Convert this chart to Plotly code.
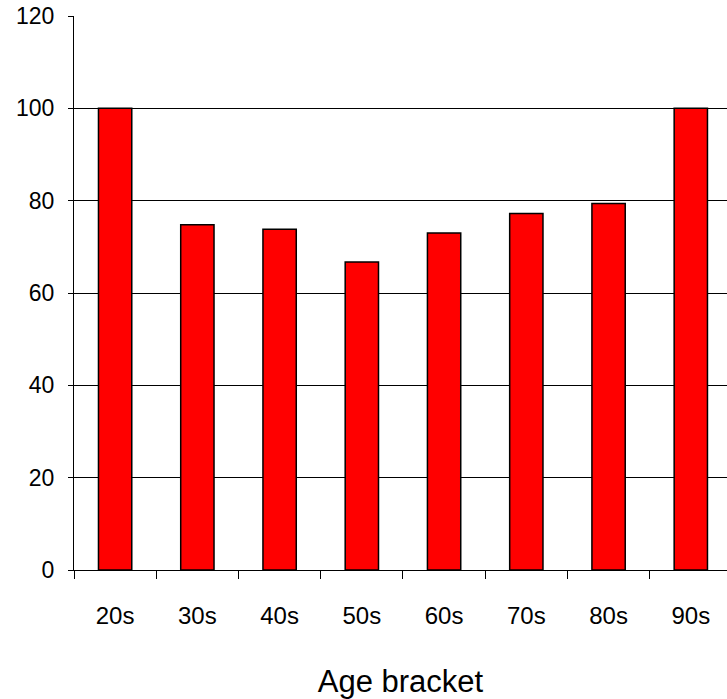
import plotly.graph_objects as go

categories = ["20s", "30s", "40s", "50s", "60s", "70s", "80s", "90s"]
values = [100, 74.8, 73.8, 66.7, 73.0, 77.2, 79.4, 100]

fig = go.Figure(
    go.Bar(
        x=categories,
        y=values,
        width=0.405,
        marker=dict(color="#FF0000", line=dict(color="black", width=1.5)),
    )
)

font_family = "Liberation Sans, Arial, sans-serif"

fig.update_layout(
    width=727,
    height=699,
    margin=dict(l=74, r=0, t=16, b=129),
    plot_bgcolor="white",
    paper_bgcolor="white",
    showlegend=False,
    font=dict(family=font_family, color="black"),
)

fig.update_xaxes(
    type="category",
    range=[-0.5, 7.44],
    tickson="boundaries",
    ticks="outside",
    ticklen=8,
    tickcolor="black",
    showline=True,
    linecolor="black",
    linewidth=1,
    showgrid=False,
    tickfont=dict(size=24, family=font_family),
    ticklabelstandoff=24,
    title=dict(text="Age bracket", font=dict(size=31, family=font_family), standoff=42),
)

fig.update_yaxes(
    range=[0, 120],
    dtick=20,
    ticks="outside",
    ticklen=5,
    tickcolor="black",
    showline=True,
    linecolor="black",
    linewidth=1,
    showgrid=True,
    gridcolor="black",
    gridwidth=1,
    zeroline=False,
    tickfont=dict(size=23, family=font_family),
    ticklabelstandoff=9,
)

fig.write_html(
    "out.html",
    config={"displayModeBar": False},
    post_script="document.body.style.margin='0';document.body.style.overflow='hidden';",
)
